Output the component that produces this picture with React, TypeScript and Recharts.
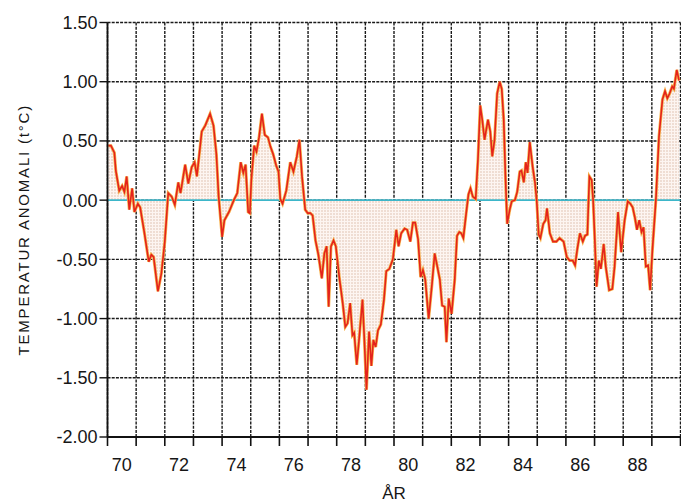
import React from 'react';
import {
  ComposedChart,
  Area,
  Line,
  XAxis,
  YAxis,
  CartesianGrid,
  ReferenceLine,
  Label,
} from 'recharts';

// Time (decimal year) of each traced point
const years: number[] = [
  1970.03, 1970.12, 1970.24, 1970.29, 1970.41, 1970.51, 1970.59, 1970.67, 1970.76, 1970.86, 1970.94,
  1971.06, 1971.14, 1971.29, 1971.44, 1971.53, 1971.61, 1971.76, 1971.88,
  1972.0, 1972.12, 1972.24, 1972.35, 1972.47, 1972.55, 1972.71, 1972.82, 1972.94,
  1973.04, 1973.12, 1973.29, 1973.41, 1973.58, 1973.7, 1973.8, 1973.88,
  1974.0, 1974.08, 1974.24, 1974.41, 1974.53, 1974.65, 1974.74, 1974.82, 1974.91, 1974.97,
  1975.02, 1975.12, 1975.2, 1975.29, 1975.39, 1975.49, 1975.6, 1975.69, 1975.78, 1975.89, 1975.97,
  1976.03, 1976.11, 1976.24, 1976.38, 1976.49, 1976.61, 1976.7, 1976.79, 1976.9, 1976.99,
  1977.08, 1977.16, 1977.26, 1977.36, 1977.48, 1977.57, 1977.65, 1977.72, 1977.8, 1977.89, 1977.97,
  1978.09, 1978.21, 1978.3, 1978.38, 1978.47, 1978.55, 1978.61, 1978.7, 1978.78, 1978.9, 1978.96,
  1979.04, 1979.13, 1979.21, 1979.28, 1979.36, 1979.44, 1979.54, 1979.65, 1979.73, 1979.84, 1979.96,
  1980.08, 1980.16, 1980.25, 1980.37, 1980.46, 1980.57, 1980.66, 1980.74, 1980.84, 1980.93,
  1981.01, 1981.09, 1981.21, 1981.33, 1981.42, 1981.51, 1981.6, 1981.68, 1981.77, 1981.83, 1981.91,
  1982.01, 1982.12, 1982.2, 1982.28, 1982.35, 1982.42, 1982.52, 1982.6, 1982.67, 1982.75, 1982.85, 1982.93,
  1983.01, 1983.08, 1983.16, 1983.28, 1983.36, 1983.43, 1983.51, 1983.6, 1983.69, 1983.76, 1983.83, 1983.89, 1983.95,
  1984.04, 1984.11, 1984.22, 1984.3, 1984.39, 1984.45, 1984.53, 1984.6, 1984.66, 1984.74, 1984.84, 1984.92, 1984.98,
  1985.05, 1985.11, 1985.21, 1985.29, 1985.34, 1985.44, 1985.55, 1985.67, 1985.78, 1985.92,
  1986.03, 1986.13, 1986.24, 1986.32, 1986.4, 1986.49, 1986.59, 1986.67, 1986.75, 1986.82, 1986.9, 1986.95,
  1987.01, 1987.07, 1987.15, 1987.22, 1987.32, 1987.39, 1987.51, 1987.62, 1987.7, 1987.82, 1987.93,
  1988.05, 1988.16, 1988.25, 1988.33, 1988.41, 1988.48, 1988.56, 1988.64, 1988.71, 1988.79, 1988.87, 1988.94,
  1989.02, 1989.14, 1989.25, 1989.37, 1989.46, 1989.54, 1989.62, 1989.71, 1989.77, 1989.87, 1989.95,
];

// Temperature anomaly (°C) at each point
const anomalies: number[] = [
  0.46, 0.46, 0.4, 0.25, 0.08, 0.12, 0.07, 0.2, -0.08, 0.1, -0.1,
  -0.03, -0.06, -0.28, -0.52, -0.46, -0.48, -0.77, -0.62,
  -0.35, 0.06, 0.03, -0.04, 0.15, 0.06, 0.3, 0.14, 0.28,
  0.32, 0.2, 0.58, 0.63, 0.73, 0.63, 0.39, 0.03,
  -0.31, -0.17, -0.1, 0.0, 0.06, 0.32, 0.23, 0.3, -0.1, -0.11,
  0.17, 0.46, 0.41, 0.53, 0.73, 0.55, 0.53, 0.45, 0.39, 0.29, 0.24,
  0.01, -0.03, 0.08, 0.32, 0.24, 0.37, 0.51, 0.2, -0.08, -0.11,
  -0.11, -0.13, -0.34, -0.46, -0.66, -0.45, -0.39, -0.9, -0.39, -0.34, -0.39,
  -0.65, -0.87, -1.07, -1.04, -0.87, -1.14, -1.12, -1.39, -1.18, -0.84, -1.15,
  -1.6, -1.11, -1.4, -1.18, -1.24, -1.1, -1.05, -0.84, -0.6, -0.58, -0.5,
  -0.25, -0.39, -0.28, -0.24, -0.25, -0.35, -0.19, -0.19, -0.33, -0.65,
  -0.59, -0.67, -1.0, -0.7, -0.45, -0.56, -0.67, -0.89, -0.9, -1.2, -0.83,
  -0.96, -0.67, -0.3, -0.27, -0.28, -0.32, -0.11, 0.05, 0.1, 0.03, 0.01, 0.34,
  0.8, 0.68, 0.51, 0.68, 0.58, 0.37, 0.51, 0.9, 1.0, 0.94, 0.68, 0.2, -0.2,
  -0.08, -0.01, 0.0, 0.07, 0.24, 0.25, 0.15, 0.32, 0.23, 0.49, 0.28, 0.15, 0.0,
  -0.29, -0.32, -0.2, -0.17, -0.07, -0.28, -0.35, -0.35, -0.32, -0.35,
  -0.48, -0.51, -0.51, -0.55, -0.41, -0.28, -0.35, -0.3, -0.29, 0.2, 0.17, 0.0,
  -0.34, -0.73, -0.51, -0.58, -0.37, -0.56, -0.76, -0.75, -0.56, -0.1, -0.44,
  -0.17, -0.01, -0.03, -0.06, -0.15, -0.25, -0.17, -0.27, -0.23, -0.56, -0.55, -0.76,
  -0.42, 0.0, 0.54, 0.85, 0.92, 0.86, 0.9, 0.96, 0.94, 1.1, 1.01,
];

// Axis ticks and labels
const yearTicks: number[] = [
  1970, 1971, 1972, 1973, 1974, 1975, 1976, 1977, 1978, 1979, 1980,
  1981, 1982, 1983, 1984, 1985, 1986, 1987, 1988, 1989, 1990,
];
const labelledYears: number[] = [1970, 1972, 1974, 1976, 1978, 1980, 1982, 1984, 1986, 1988];
const valueTicks: number[] = [-2, -1.5, -1, -0.5, 0, 0.5, 1, 1.5];

const yTitle = 'TEMPERATUR ANOMALI (t°C)';
const xTitle = 'ÅR';

const data = years.map((t, i) => ({ t, v: anomalies[i] }));

const FONT = '"Liberation Sans", Arial, sans-serif';
const tickStyle = { fontFamily: FONT, fontSize: 18, fill: '#161616' };

// Tick mark at every year boundary, label in the middle of the labelled year
function YearTick(props: any) {
  const { x, y, payload, width } = props;
  const yr = payload.value as number;
  if (!labelledYears.includes(yr)) return null;
  const halfYear = width / (yearTicks.length - 1) / 2;
  return (
    <text x={x + halfYear} y={y + 23} textAnchor="middle" style={tickStyle}>
      {String(yr - 1900)}
    </text>
  );
}

export default function App() {
  return (
    <div
      style={{
        position: 'fixed',
        left: 0,
        top: 0,
        width: 681,
        height: 503,
        overflow: 'hidden',
        background: '#ffffff',
      }}
    >
      <ComposedChart
        width={690}
        height={503}
        data={data}
        margin={{ top: 22.5, right: 9.5, bottom: 0, left: 7.5 }}
      >
        <defs>
          <pattern id="dots" width="3" height="3" patternUnits="userSpaceOnUse">
            <rect width="3" height="3" fill="#fdf5f1" />
            <circle cx="1" cy="1" r="0.75" fill="#dcb9a8" />
          </pattern>
        </defs>
        <CartesianGrid stroke="#1a1a1a" strokeWidth={1.4} strokeDasharray="3 1.2" />
        <XAxis
          dataKey="t"
          type="number"
          domain={[1970, 1990]}
          ticks={yearTicks}
          tick={<YearTick />}
          tickSize={9}
          height={66}
          axisLine={{ stroke: '#111', strokeWidth: 1.8 }}
          tickLine={{ stroke: '#111', strokeWidth: 1.6 }}
          interval={0}
        >
          <Label
            value={xTitle}
            position="insideBottom"
            offset={4}
            style={{ fontFamily: FONT, fontSize: 17, fill: '#161616' }}
          />
        </XAxis>
        <YAxis
          type="number"
          domain={[-2, 1.5]}
          ticks={valueTicks}
          tickFormatter={(v: number) => v.toFixed(2)}
          width={100}
          tickSize={8}
          tickMargin={2}
          tick={tickStyle}
          axisLine={{ stroke: '#111', strokeWidth: 1.8 }}
          tickLine={{ stroke: '#111', strokeWidth: 1.4 }}
          allowDataOverflow
          interval={0}
        >
          <Label
            value={yTitle}
            angle={-90}
            position="insideLeft"
            offset={16.5}
            style={{
              fontFamily: FONT,
              fontSize: 15,
              letterSpacing: 1.8,
              fill: '#161616',
              textAnchor: 'middle',
            }}
          />
        </YAxis>
        <Area
          dataKey="v"
          type="linear"
          baseValue={0}
          stroke="none"
          fill="url(#dots)"
          fillOpacity={1}
          isAnimationActive={false}
        />
        <ReferenceLine y={0} stroke="#3db6c9" strokeWidth={1.6} />
        <Line
          dataKey="v"
          type="linear"
          stroke="#f6b24a"
          strokeWidth={3}
          dot={false}
          isAnimationActive={false}
        />
        <Line
          dataKey="v"
          type="linear"
          stroke="#e4221c"
          strokeWidth={1.6}
          dot={false}
          isAnimationActive={false}
        />
      </ComposedChart>
    </div>
  );
}
